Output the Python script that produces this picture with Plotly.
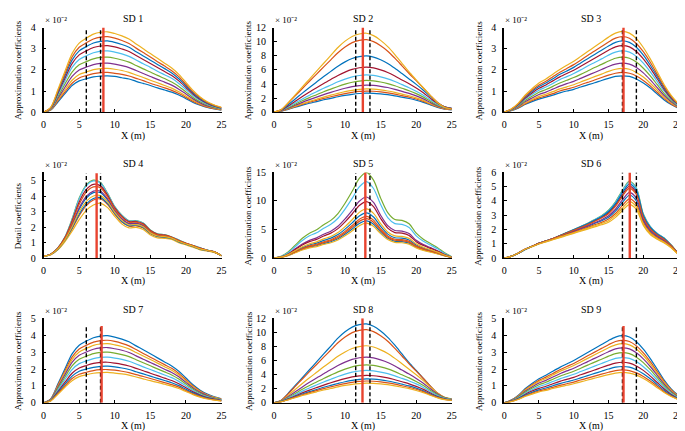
import plotly.graph_objects as go

W, H = 685, 431

# x positions (m)
X_M = list(range(26))

# values in units of 1e-2 (axis shows "x 10^-2")
sd1 = [
    [0, .10, .48, .88, 1.26, 1.48, 1.58, 1.67, 1.71, 1.72, 1.69, 1.63, 1.57, 1.46, 1.36, 1.26, 1.15, 1.05, .95, .81, .64, .46, .33, .22, .15, .10],
    [0, .11, .53, .96, 1.37, 1.62, 1.73, 1.82, 1.87, 1.88, 1.84, 1.79, 1.71, 1.60, 1.49, 1.37, 1.26, 1.15, 1.03, .88, .70, .51, .36, .24, .17, .11],
    [0, .12, .58, 1.06, 1.51, 1.78, 1.90, 2.01, 2.06, 2.07, 2.03, 1.97, 1.88, 1.76, 1.64, 1.51, 1.39, 1.26, 1.14, .97, .77, .56, .39, .27, .19, .12],
    [0, .14, .65, 1.18, 1.69, 2.00, 2.13, 2.25, 2.31, 2.32, 2.27, 2.20, 2.11, 1.97, 1.83, 1.69, 1.55, 1.42, 1.28, 1.09, .86, .63, .44, .30, .21, .14],
    [0, .16, .73, 1.33, 1.90, 2.24, 2.39, 2.52, 2.59, 2.60, 2.55, 2.47, 2.37, 2.21, 2.05, 1.90, 1.74, 1.59, 1.43, 1.22, .96, .70, .49, .34, .23, .16],
    [0, .17, .81, 1.48, 2.12, 2.49, 2.67, 2.81, 2.89, 2.90, 2.84, 2.76, 2.64, 2.47, 2.29, 2.12, 1.94, 1.77, 1.60, 1.36, 1.07, .78, .55, .38, .26, .17],
    [0, .19, .88, 1.61, 2.30, 2.71, 2.90, 3.06, 3.13, 3.15, 3.09, 2.99, 2.87, 2.68, 2.49, 2.30, 2.11, 1.92, 1.73, 1.48, 1.17, .85, .60, .41, .28, .19],
    [0, .20, .94, 1.72, 2.46, 2.90, 3.10, 3.27, 3.35, 3.37, 3.30, 3.20, 3.07, 2.86, 2.66, 2.46, 2.26, 2.06, 1.85, 1.58, 1.25, .91, .64, .44, .30, .20],
    [0, .21, 1.00, 1.82, 2.61, 3.07, 3.28, 3.46, 3.55, 3.57, 3.50, 3.39, 3.25, 3.03, 2.82, 2.61, 2.39, 2.18, 1.96, 1.68, 1.32, .96, .68, .46, .32, .21],
    [0, .23, 1.06, 1.94, 2.77, 3.27, 3.50, 3.69, 3.78, 3.80, 3.72, 3.61, 3.46, 3.23, 3.00, 2.77, 2.55, 2.32, 2.09, 1.79, 1.41, 1.03, .72, .49, .34, .23],
]
sd2 = [
    [0, .14, .41, .70, 1.00, 1.27, 1.51, 1.76, 1.97, 2.19, 2.38, 2.54, 2.65, 2.70, 2.67, 2.59, 2.48, 2.32, 2.13, 1.94, 1.70, 1.40, 1.03, .68, .43, .32],
    [0, .15, .45, .78, 1.11, 1.41, 1.68, 1.95, 2.19, 2.43, 2.64, 2.82, 2.94, 3.00, 2.97, 2.88, 2.75, 2.57, 2.35, 2.14, 1.87, 1.54, 1.12, .74, .47, .35],
    [0, .16, .49, .85, 1.21, 1.54, 1.84, 2.14, 2.41, 2.67, 2.91, 3.10, 3.23, 3.30, 3.26, 3.16, 3.01, 2.81, 2.57, 2.33, 2.03, 1.67, 1.21, .80, .50, .38],
    [0, .18, .56, .98, 1.40, 1.78, 2.14, 2.49, 2.81, 3.12, 3.40, 3.63, 3.78, 3.85, 3.80, 3.67, 3.50, 3.24, 2.95, 2.66, 2.31, 1.89, 1.37, .89, .57, .42],
    [0, .21, .65, 1.13, 1.62, 2.07, 2.48, 2.90, 3.28, 3.65, 3.98, 4.25, 4.42, 4.50, 4.44, 4.28, 4.05, 3.75, 3.39, 3.04, 2.63, 2.14, 1.55, 1.00, .63, .46],
    [0, .23, .75, 1.31, 1.88, 2.41, 2.90, 3.40, 3.85, 4.31, 4.70, 5.01, 5.21, 5.30, 5.22, 5.01, 4.73, 4.35, 3.91, 3.47, 2.98, 2.41, 1.73, 1.11, .68, .50],
    [0, .26, .88, 1.56, 2.23, 2.87, 3.48, 4.08, 4.65, 5.21, 5.69, 6.07, 6.30, 6.40, 6.28, 6.00, 5.64, 5.14, 4.58, 4.03, 3.42, 2.75, 1.96, 1.24, .75, .54],
    [0, .30, 1.05, 1.88, 2.71, 3.51, 4.28, 5.05, 5.79, 6.53, 7.14, 7.62, 7.89, 8.00, 7.82, 7.43, 6.91, 6.23, 5.48, 4.72, 3.95, 3.12, 2.20, 1.35, .78, .56],
    [0, .33, 1.27, 2.31, 3.36, 4.39, 5.40, 6.42, 7.43, 8.44, 9.25, 9.87, 10.19, 10.30, 10.01, 9.42, 8.65, 7.66, 6.58, 5.49, 4.47, 3.43, 2.36, 1.38, .73, .50],
    [0, .34, 1.34, 2.46, 3.58, 4.70, 5.82, 6.94, 8.06, 9.18, 10.08, 10.75, 11.09, 11.20, 10.86, 10.19, 9.30, 8.18, 6.94, 5.71, 4.59, 3.47, 2.35, 1.34, .67, .45],
]
sd3 = [
    [0, .07, .19, .36, .50, .62, .71, .81, .91, 1.00, 1.08, 1.19, 1.29, 1.39, 1.50, 1.60, 1.69, 1.72, 1.69, 1.57, 1.38, 1.14, .86, .58, .36, .19],
    [0, .08, .21, .39, .55, .68, .77, .88, 1.00, 1.09, 1.18, 1.30, 1.41, 1.52, 1.64, 1.75, 1.84, 1.88, 1.84, 1.71, 1.50, 1.24, .94, .64, .39, .21],
    [0, .08, .23, .43, .60, .75, .85, .97, 1.10, 1.20, 1.30, 1.43, 1.55, 1.68, 1.80, 1.93, 2.03, 2.07, 2.03, 1.88, 1.66, 1.37, 1.04, .70, .43, .23],
    [0, .09, .26, .49, .67, .84, .95, 1.09, 1.23, 1.35, 1.46, 1.60, 1.74, 1.88, 2.02, 2.16, 2.27, 2.32, 2.27, 2.11, 1.86, 1.53, 1.16, .79, .49, .26],
    [0, .10, .29, .55, .75, .94, 1.07, 1.22, 1.38, 1.51, 1.64, 1.79, 1.95, 2.11, 2.26, 2.42, 2.55, 2.60, 2.55, 2.37, 2.08, 1.72, 1.30, .88, .55, .29],
    [0, .12, .32, .61, .84, 1.04, 1.19, 1.36, 1.54, 1.68, 1.83, 2.00, 2.18, 2.35, 2.52, 2.70, 2.84, 2.90, 2.84, 2.64, 2.32, 1.91, 1.45, .99, .61, .32],
    [0, .13, .35, .66, .91, 1.13, 1.29, 1.48, 1.67, 1.83, 1.98, 2.17, 2.36, 2.55, 2.74, 2.93, 3.09, 3.15, 3.09, 2.87, 2.52, 2.08, 1.58, 1.07, .66, .35],
    [0, .13, .37, .71, .98, 1.21, 1.38, 1.58, 1.79, 1.95, 2.12, 2.33, 2.53, 2.73, 2.93, 3.13, 3.30, 3.37, 3.30, 3.07, 2.70, 2.22, 1.69, 1.15, .71, .37],
    [0, .14, .39, .75, 1.04, 1.29, 1.46, 1.68, 1.89, 2.07, 2.25, 2.46, 2.68, 2.89, 3.11, 3.32, 3.50, 3.57, 3.50, 3.25, 2.86, 2.36, 1.79, 1.21, .75, .39],
    [0, .15, .42, .80, 1.11, 1.38, 1.57, 1.80, 2.02, 2.22, 2.41, 2.64, 2.87, 3.09, 3.32, 3.55, 3.74, 3.82, 3.74, 3.48, 3.06, 2.52, 1.91, 1.30, .80, .42],
]
sd4 = [
    [.11, .24, .60, 1.23, 2.13, 3.16, 3.89, 4.24, 4.24, 3.76, 3.05, 2.52, 2.21, 2.24, 2.09, 1.68, 1.46, 1.42, 1.31, 1.10, .92, .77, .60, .49, .39, .15],
    [.11, .22, .56, 1.13, 1.89, 2.75, 3.40, 3.76, 3.83, 3.47, 2.85, 2.33, 2.06, 2.09, 1.95, 1.57, 1.38, 1.34, 1.26, 1.04, .89, .74, .56, .48, .37, .15],
    [.11, .21, .53, 1.07, 1.74, 2.49, 3.09, 3.44, 3.55, 3.27, 2.70, 2.20, 1.95, 1.99, 1.85, 1.49, 1.31, 1.28, 1.21, .99, .85, .71, .53, .46, .36, .14],
    [.11, .24, .61, 1.25, 2.18, 3.26, 4.00, 4.34, 4.33, 3.82, 3.09, 2.55, 2.24, 2.26, 2.11, 1.70, 1.48, 1.43, 1.32, 1.11, .93, .78, .61, .50, .39, .15],
    [.10, .25, .66, 1.36, 2.53, 3.89, 4.75, 5.05, 4.90, 4.19, 3.33, 2.78, 2.42, 2.42, 2.27, 1.82, 1.57, 1.52, 1.36, 1.16, .96, .81, .66, .51, .40, .15],
    [.10, .25, .66, 1.36, 2.50, 3.84, 4.69, 5.00, 4.86, 4.17, 3.32, 2.76, 2.41, 2.41, 2.26, 1.81, 1.56, 1.51, 1.36, 1.16, .96, .81, .66, .51, .41, .15],
    [.11, .25, .64, 1.32, 2.39, 3.64, 4.45, 4.78, 4.68, 4.06, 3.25, 2.70, 2.36, 2.37, 2.22, 1.78, 1.54, 1.49, 1.35, 1.14, .95, .80, .64, .50, .40, .15],
    [.11, .23, .57, 1.15, 1.95, 2.84, 3.51, 3.86, 3.92, 3.54, 2.90, 2.37, 2.10, 2.13, 1.98, 1.60, 1.40, 1.36, 1.27, 1.05, .90, .75, .57, .48, .38, .15],
    [.11, .25, .63, 1.29, 2.31, 3.49, 4.28, 4.61, 4.55, 3.97, 3.19, 2.65, 2.32, 2.33, 2.18, 1.75, 1.52, 1.47, 1.34, 1.13, .95, .80, .63, .50, .40, .15],
    [.11, .23, .59, 1.18, 2.03, 2.98, 3.67, 4.02, 4.05, 3.64, 2.96, 2.44, 2.15, 2.17, 2.03, 1.63, 1.43, 1.39, 1.29, 1.07, .91, .76, .59, .49, .38, .15],
]
sd5 = [
    [0, .13, .46, .98, 1.50, 1.89, 2.15, 2.54, 2.86, 3.38, 4.16, 5.07, 6.05, 6.50, 5.92, 4.55, 3.45, 2.93, 2.86, 2.60, 1.89, 1.43, 1.11, .78, .39, .10],
    [0, .14, .48, 1.04, 1.59, 2.00, 2.28, 2.69, 3.04, 3.59, 4.42, 5.38, 6.42, 6.90, 6.28, 4.83, 3.66, 3.11, 3.04, 2.76, 2.00, 1.52, 1.17, .83, .41, .10],
    [0, .12, .43, .92, 1.40, 1.77, 2.01, 2.38, 2.68, 3.17, 3.90, 4.76, 5.67, 6.10, 5.55, 4.27, 3.23, 2.75, 2.68, 2.44, 1.77, 1.34, 1.04, .73, .37, .09],
    [0, .21, .75, 1.61, 2.46, 3.10, 3.53, 4.17, 4.71, 5.56, 6.85, 8.35, 9.95, 10.70, 9.74, 7.49, 5.67, 4.82, 4.71, 4.28, 3.10, 2.35, 1.82, 1.28, .64, .16],
    [0, .30, 1.05, 2.25, 3.45, 4.35, 4.95, 5.85, 6.60, 7.80, 9.60, 11.70, 13.95, 15.00, 13.65, 10.50, 7.95, 6.75, 6.60, 6.00, 4.35, 3.30, 2.55, 1.80, .90, .23],
    [0, .27, .94, 2.01, 3.08, 3.89, 4.42, 5.23, 5.90, 6.97, 8.58, 10.45, 12.46, 13.40, 12.19, 9.38, 7.10, 6.03, 5.90, 5.36, 3.89, 2.95, 2.28, 1.61, .80, .20],
    [0, .20, .69, 1.49, 2.28, 2.87, 3.27, 3.86, 4.36, 5.15, 6.34, 7.72, 9.21, 9.90, 9.01, 6.93, 5.25, 4.46, 4.36, 3.96, 2.87, 2.18, 1.68, 1.19, .59, .15],
    [0, .16, .55, 1.19, 1.82, 2.29, 2.61, 3.08, 3.48, 4.11, 5.06, 6.16, 7.35, 7.90, 7.19, 5.53, 4.19, 3.56, 3.48, 3.16, 2.29, 1.74, 1.34, .95, .47, .12],
    [0, .15, .51, 1.10, 1.68, 2.12, 2.41, 2.85, 3.21, 3.80, 4.67, 5.69, 6.79, 7.30, 6.64, 5.11, 3.87, 3.29, 3.21, 2.92, 2.12, 1.61, 1.24, .88, .44, .11],
    [0, .17, .60, 1.29, 1.98, 2.49, 2.84, 3.35, 3.78, 4.47, 5.50, 6.71, 8.00, 8.60, 7.83, 6.02, 4.56, 3.87, 3.78, 3.44, 2.49, 1.89, 1.46, 1.03, .52, .13],
]
sd6 = [
    [0, .11, .34, .62, .82, 1.03, 1.18, 1.34, 1.52, 1.69, 1.87, 2.05, 2.22, 2.42, 2.61, 2.86, 3.29, 3.90, 4.40, 4.00, 2.61, 1.88, 1.49, 1.20, .80, .29],
    [0, .12, .34, .61, .81, 1.01, 1.17, 1.32, 1.49, 1.65, 1.82, 1.98, 2.15, 2.33, 2.50, 2.73, 3.12, 3.69, 4.15, 3.78, 2.49, 1.80, 1.42, 1.14, .77, .28],
    [0, .11, .34, .60, .79, .98, 1.13, 1.28, 1.43, 1.58, 1.73, 1.88, 2.03, 2.18, 2.33, 2.51, 2.85, 3.34, 3.75, 3.41, 2.29, 1.65, 1.31, 1.05, .71, .26],
    [0, .12, .34, .62, .82, 1.03, 1.19, 1.35, 1.53, 1.72, 1.90, 2.08, 2.27, 2.47, 2.69, 2.96, 3.42, 4.07, 4.60, 4.19, 2.71, 1.95, 1.54, 1.24, .83, .30],
    [0, .11, .32, .59, .81, 1.03, 1.19, 1.35, 1.57, 1.78, 2.00, 2.21, 2.43, 2.70, 2.97, 3.35, 3.94, 4.75, 5.40, 4.91, 3.08, 2.21, 1.73, 1.40, .92, .32],
    [0, .11, .33, .59, .81, 1.03, 1.19, 1.35, 1.57, 1.78, 2.00, 2.21, 2.42, 2.69, 2.95, 3.32, 3.91, 4.71, 5.35, 4.87, 3.05, 2.20, 1.72, 1.40, .91, .32],
    [0, .11, .33, .61, .82, 1.04, 1.20, 1.36, 1.56, 1.76, 1.96, 2.17, 2.37, 2.61, 2.85, 3.18, 3.72, 4.45, 5.05, 4.60, 2.92, 2.10, 1.65, 1.33, .88, .31],
    [0, .11, .33, .60, .82, 1.03, 1.20, 1.36, 1.57, 1.77, 1.98, 2.19, 2.40, 2.65, 2.90, 3.26, 3.82, 4.58, 5.20, 4.73, 2.99, 2.15, 1.68, 1.36, .89, .32],
    [0, .11, .34, .61, .82, 1.03, 1.20, 1.36, 1.55, 1.75, 1.95, 2.14, 2.34, 2.57, 2.80, 3.11, 3.62, 4.33, 4.90, 4.46, 2.85, 2.05, 1.61, 1.30, .86, .31],
    [0, .11, .34, .61, .80, 1.00, 1.15, 1.30, 1.46, 1.62, 1.77, 1.93, 2.09, 2.25, 2.42, 2.62, 2.99, 3.51, 3.95, 3.59, 2.39, 1.72, 1.37, 1.10, .74, .27],
]
sd7 = [
    [0, .24, 1.11, 2.02, 2.90, 3.41, 3.65, 3.85, 3.95, 3.97, 3.89, 3.77, 3.61, 3.37, 3.14, 2.90, 2.66, 2.42, 2.18, 1.87, 1.47, 1.07, .75, .52, .36, .24],
    [0, .22, 1.04, 1.89, 2.70, 3.18, 3.40, 3.59, 3.68, 3.70, 3.63, 3.52, 3.37, 3.15, 2.92, 2.70, 2.48, 2.26, 2.04, 1.74, 1.37, 1.00, .70, .48, .33, .22],
    [0, .21, .98, 1.79, 2.56, 3.01, 3.22, 3.40, 3.48, 3.50, 3.43, 3.33, 3.19, 2.98, 2.77, 2.56, 2.35, 2.14, 1.93, 1.65, 1.30, .95, .67, .46, .32, .21],
    [0, .20, .92, 1.67, 2.39, 2.81, 3.01, 3.17, 3.25, 3.27, 3.20, 3.11, 2.98, 2.78, 2.58, 2.39, 2.19, 1.99, 1.80, 1.54, 1.21, .88, .62, .43, .29, .20],
    [0, .18, .84, 1.53, 2.19, 2.58, 2.76, 2.91, 2.99, 3.00, 2.94, 2.85, 2.73, 2.55, 2.37, 2.19, 2.01, 1.83, 1.65, 1.41, 1.11, .81, .57, .39, .27, .18],
    [0, .16, .76, 1.38, 1.97, 2.32, 2.48, 2.62, 2.69, 2.70, 2.65, 2.57, 2.46, 2.30, 2.13, 1.97, 1.81, 1.65, 1.49, 1.27, 1.00, .73, .51, .35, .24, .16],
    [0, .14, .67, 1.22, 1.75, 2.06, 2.21, 2.33, 2.39, 2.40, 2.35, 2.28, 2.18, 2.04, 1.90, 1.75, 1.61, 1.46, 1.32, 1.13, .89, .65, .46, .31, .22, .14],
    [0, .13, .61, 1.11, 1.58, 1.87, 2.00, 2.10, 2.16, 2.17, 2.13, 2.06, 1.97, 1.84, 1.71, 1.58, 1.45, 1.32, 1.19, 1.02, .80, .59, .41, .28, .20, .13],
    [0, .12, .55, 1.00, 1.44, 1.69, 1.81, 1.91, 1.96, 1.97, 1.93, 1.87, 1.79, 1.67, 1.56, 1.44, 1.32, 1.20, 1.08, .93, .73, .53, .37, .26, .18, .12],
    [0, .11, .50, .92, 1.31, 1.55, 1.66, 1.75, 1.79, 1.80, 1.76, 1.71, 1.64, 1.53, 1.42, 1.31, 1.21, 1.10, .99, .85, .67, .49, .34, .23, .16, .11],
]
sd8 = [
    [0, .34, 1.34, 2.46, 3.58, 4.70, 5.82, 6.94, 8.06, 9.18, 10.08, 10.75, 11.09, 11.20, 10.86, 10.19, 9.30, 8.18, 6.94, 5.71, 4.59, 3.47, 2.35, 1.34, .67, .45],
    [0, .33, 1.28, 2.33, 3.39, 4.43, 5.45, 6.48, 7.50, 8.52, 9.34, 9.97, 10.29, 10.40, 10.11, 9.51, 8.74, 7.74, 6.65, 5.54, 4.51, 3.46, 2.38, 1.39, .74, .51],
    [0, .30, 1.06, 1.90, 2.74, 3.55, 4.33, 5.11, 5.86, 6.61, 7.23, 7.71, 7.99, 8.10, 7.92, 7.52, 7.00, 6.31, 5.55, 4.78, 4.00, 3.16, 2.23, 1.37, .79, .57],
    [0, .26, .89, 1.58, 2.26, 2.91, 3.53, 4.14, 4.72, 5.29, 5.78, 6.16, 6.40, 6.50, 6.38, 6.09, 5.73, 5.22, 4.65, 4.09, 3.47, 2.79, 1.99, 1.26, .76, .55],
    [0, .24, .76, 1.34, 1.92, 2.46, 2.96, 3.46, 3.93, 4.39, 4.79, 5.11, 5.31, 5.40, 5.32, 5.10, 4.82, 4.43, 3.98, 3.54, 3.03, 2.46, 1.76, 1.13, .70, .51],
    [0, .21, .66, 1.16, 1.66, 2.12, 2.54, 2.96, 3.35, 3.74, 4.07, 4.35, 4.52, 4.60, 4.54, 4.37, 4.14, 3.83, 3.47, 3.11, 2.69, 2.19, 1.58, 1.03, .64, .47],
    [0, .18, .57, 0.99, 1.42, 1.81, 2.17, 2.52, 2.85, 3.16, 3.44, 3.68, 3.83, 3.90, 3.85, 3.72, 3.55, 3.28, 2.99, 2.70, 2.34, 1.92, 1.39, .90, .58, .43],
    [0, .17, .51, 0.88, 1.25, 1.59, 1.90, 2.21, 2.48, 2.75, 3.00, 3.20, 3.33, 3.40, 3.36, 3.26, 3.10, 2.89, 2.65, 2.40, 2.09, 1.72, 1.25, .82, .52, .39],
    [0, .16, .47, .81, 1.15, 1.46, 1.74, 2.02, 2.27, 2.51, 2.73, 2.91, 3.04, 3.10, 3.07, 2.98, 2.84, 2.66, 2.43, 2.21, 1.93, 1.59, 1.16, .76, .49, .36],
    [0, .15, .43, .73, 1.04, 1.32, 1.57, 1.82, 2.04, 2.27, 2.47, 2.63, 2.74, 2.80, 2.77, 2.69, 2.58, 2.41, 2.21, 2.02, 1.76, 1.46, 1.07, .71, .45, .34],
]
sd9 = [
    [0, .16, .44, .83, 1.15, 1.43, 1.63, 1.87, 2.10, 2.30, 2.50, 2.74, 2.98, 3.22, 3.45, 3.69, 3.89, 3.97, 3.89, 3.61, 3.18, 2.62, 1.99, 1.35, .83, .44],
    [0, .15, .41, .78, 1.07, 1.33, 1.52, 1.74, 1.96, 2.15, 2.33, 2.55, 2.78, 3.00, 3.22, 3.44, 3.63, 3.70, 3.63, 3.37, 2.96, 2.44, 1.85, 1.26, .78, .41],
    [0, .14, .39, .74, 1.02, 1.26, 1.44, 1.65, 1.86, 2.03, 2.21, 2.42, 2.63, 2.84, 3.05, 3.26, 3.43, 3.50, 3.43, 3.19, 2.80, 2.31, 1.75, 1.19, .74, .39],
    [0, .13, .36, .68, .94, 1.17, 1.33, 1.53, 1.72, 1.89, 2.05, 2.24, 2.44, 2.63, 2.83, 3.02, 3.19, 3.25, 3.19, 2.96, 2.60, 2.15, 1.63, 1.11, .68, .36],
    [0, .12, .33, .62, .86, 1.07, 1.22, 1.40, 1.57, 1.72, 1.87, 2.05, 2.23, 2.41, 2.58, 2.76, 2.91, 2.97, 2.91, 2.70, 2.38, 1.96, 1.49, 1.01, .62, .33],
    [0, .11, .29, .56, .78, .96, 1.10, 1.26, 1.42, 1.55, 1.69, 1.85, 2.01, 2.17, 2.33, 2.49, 2.63, 2.68, 2.63, 2.44, 2.14, 1.77, 1.34, .91, .56, .29],
    [0, .10, .26, .50, .70, .86, .98, 1.13, 1.27, 1.39, 1.51, 1.66, 1.80, 1.94, 2.09, 2.23, 2.35, 2.40, 2.35, 2.18, 1.92, 1.58, 1.20, .82, .50, .26],
    [0, .09, .24, .45, .62, .77, .88, 1.01, 1.14, 1.25, 1.35, 1.48, 1.61, 1.74, 1.87, 2.00, 2.11, 2.15, 2.11, 1.96, 1.72, 1.42, 1.08, .73, .45, .24],
    [0, .08, .21, .41, .57, .70, .80, .92, 1.03, 1.13, 1.23, 1.35, 1.46, 1.58, 1.70, 1.81, 1.91, 1.95, 1.91, 1.77, 1.56, 1.29, .98, .66, .41, .21],
    [0, .07, .20, .38, .52, .65, .74, .85, .95, 1.04, 1.13, 1.24, 1.35, 1.46, 1.57, 1.67, 1.76, 1.80, 1.76, 1.64, 1.44, 1.19, .90, .61, .38, .20],
]

PANELS = [sd1, sd2, sd3, sd4, sd5, sd6, sd7, sd8, sd9]
TITLES = ["SD 1", "SD 2", "SD 3", "SD 4", "SD 5", "SD 6", "SD 7", "SD 8", "SD 9"]
YLABELS = ["Approximation coefficients"] * 3 + ["Detail coefficients"] + ["Approximation coefficients"] * 5
SCALE_LABEL = "\u00d7 10\u207b\u00b2"
Y_MAX = [4, 12, 4, 5.55, 15, 6, 5, 12, 5]
Y_DTICK = [1, 2, 1, 1, 5, 1, 1, 2, 1]
X_TICKS = [0, 5, 10, 15, 20, 25]
DASH_X = [[6.0, 8.0], [11.5, 13.5], [17.0, 19.0], [6.0, 8.0], [11.5, 13.5],
          [17.0, 19.0], [6.0, 8.0], [11.5, 13.5], [17.0, 19.0]]
DASH_TOP = [3.95, 11.8, 3.95, 5.5, 14.9, 6.0, 4.55, 12.0, 4.55]
RED_X = [8.4, 12.5, 17.15, 7.45, 12.85, 18.05, 8.15, 12.45, 17.15]
RED_TOP = [4.0, 12.0, 4.0, 5.5, 15.0, 6.0, 4.55, 12.0, 4.55]

COLORS = ["#0072BD", "#D95319", "#EDB120", "#7E2F8E", "#77AC30", "#4DBEEE", "#A2142F"]
RED = "#E8432F"
FONT = "Liberation Serif, Times New Roman, serif"

# layout geometry (pixels)
COL_L = [33, 266, 499]
COL_R = [213, 446, 675]
ROW_T = [14, 163, 313]
ROW_B = [101, 251, 400]


def px(x):
    return x / W


def py(y):
    return 1 - y / H


fig = go.Figure()
annotations = []
layout_axes = {}

for i, curves in enumerate(PANELS):
    r, c = divmod(i, 3)
    n = i + 1
    xa = "x" if n == 1 else f"x{n}"
    ya = "y" if n == 1 else f"y{n}"
    for k, ys in enumerate(curves):
        fig.add_trace(go.Scatter(
            x=X_M, y=ys, xaxis=xa, yaxis=ya, mode="lines",
            line=dict(color=COLORS[k % 7], width=1.2, shape="spline", smoothing=0.8),
            showlegend=False, hoverinfo="skip"))
    for dx in DASH_X[i]:
        fig.add_trace(go.Scatter(
            x=[dx, dx], y=[0, DASH_TOP[i]], xaxis=xa, yaxis=ya, mode="lines",
            line=dict(color="black", width=1.4, dash="4px,2.5px"),
            showlegend=False, hoverinfo="skip"))
    fig.add_trace(go.Scatter(
        x=[RED_X[i], RED_X[i]], y=[0, RED_TOP[i]], xaxis=xa, yaxis=ya, mode="lines",
        line=dict(color=RED, width=2.4),
        showlegend=False, hoverinfo="skip"))

    xkey = "xaxis" if n == 1 else f"xaxis{n}"
    ykey = "yaxis" if n == 1 else f"yaxis{n}"
    layout_axes[xkey] = dict(
        domain=[px(COL_L[c]), px(COL_R[c])], anchor=ya, range=[0, 25],
        tickvals=X_TICKS, ticks="inside", ticklen=3, tickwidth=1, tickcolor="black",
        showline=True, linecolor="black", linewidth=1, showgrid=False, zeroline=False,
        tickfont=dict(family=FONT, size=10, color="black"), ticklabelstandoff=3,
        ticklabeloverflow="allow")
    layout_axes[ykey] = dict(
        domain=[py(ROW_B[r]), py(ROW_T[r])], anchor=xa, range=[0, Y_MAX[i]],
        tick0=0, dtick=Y_DTICK[i], ticks="inside", ticklen=3, tickwidth=1, tickcolor="black",
        showline=True, linecolor="black", linewidth=1.6, showgrid=False, zeroline=False,
        tickfont=dict(family=FONT, size=10, color="black"), ticklabelstandoff=4,
        ticklabeloverflow="allow")

    cx = (COL_L[c] + COL_R[c]) / 2
    annotations.append(dict(text=TITLES[i], x=px(cx), y=py(ROW_T[r] - 9), xref="paper", yref="paper",
                            showarrow=False, xanchor="center", yanchor="middle",
                            font=dict(family=FONT, size=10, color="black")))
    annotations.append(dict(text="X (m)", x=px(cx), y=py(ROW_B[r] + 24), xref="paper", yref="paper",
                            showarrow=False, xanchor="center", yanchor="middle",
                            font=dict(family=FONT, size=10, color="black")))
    annotations.append(dict(text=YLABELS[i], x=px(COL_L[c] - 26), y=py((ROW_T[r] + ROW_B[r]) / 2),
                            xref="paper", yref="paper", showarrow=False, textangle=-90,
                            xanchor="center", yanchor="middle",
                            font=dict(family=FONT, size=9, color="black")))
    annotations.append(dict(text=SCALE_LABEL, x=px(COL_L[c] - 1), y=py(ROW_T[r] - 8),
                            xref="paper", yref="paper", showarrow=False,
                            xanchor="left", yanchor="middle",
                            font=dict(family=FONT, size=9, color="black")))

fig.update_layout(
    width=W, height=H, margin=dict(l=0, r=0, t=0, b=0),
    paper_bgcolor="white", plot_bgcolor="white",
    font=dict(family=FONT, size=10, color="black"),
    annotations=annotations, **layout_axes)

fig.write_html("out.html")
